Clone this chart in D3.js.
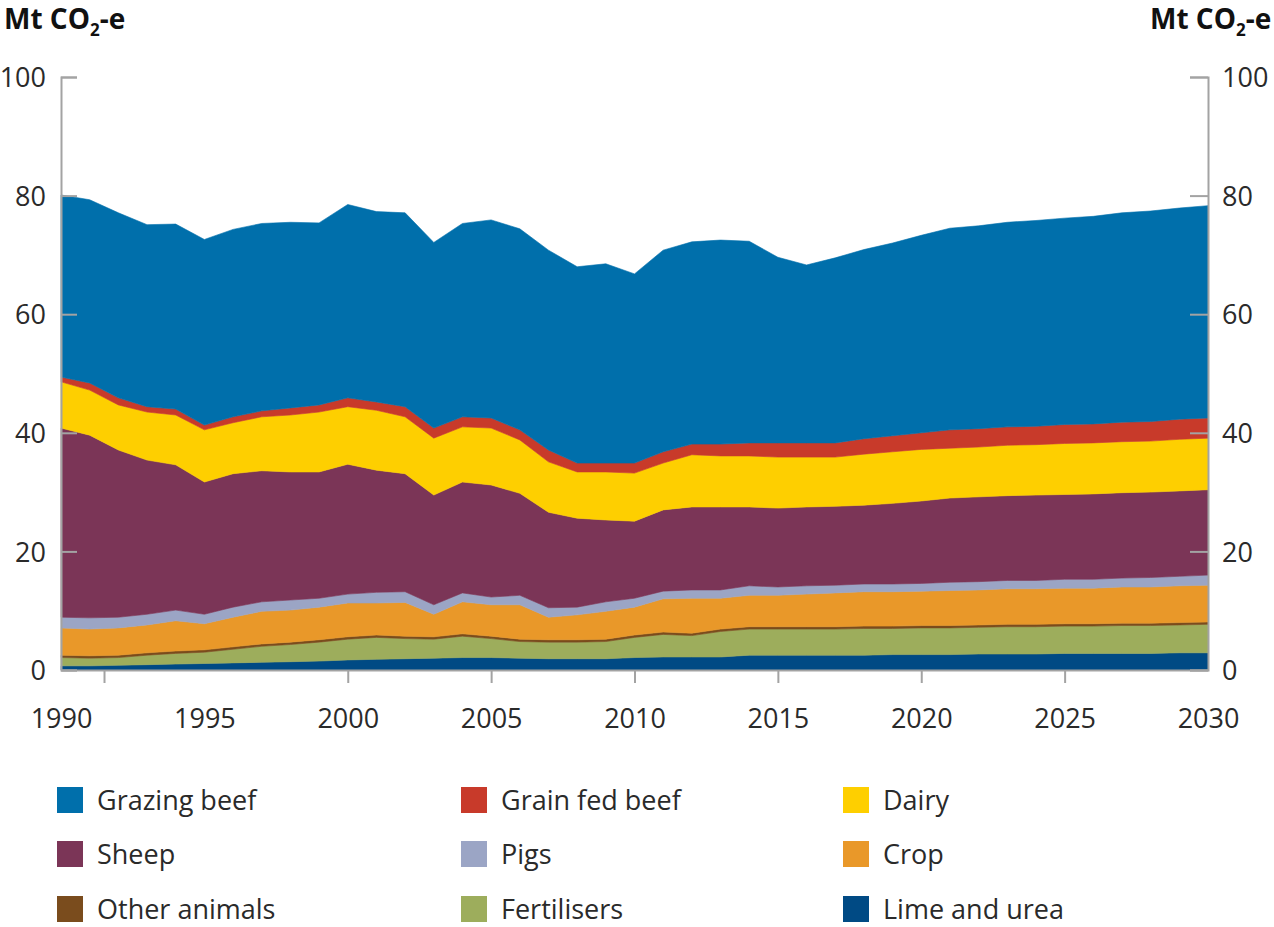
<!DOCTYPE html>
<html>
<head>
<meta charset="utf-8">
<script src="https://cdn.jsdelivr.net/npm/d3@7"></script>
<style>
  body { margin: 0; background: #fff; }
  svg { display: block; font-family: "Open Sans", sans-serif; }
  .axis text { font-size: 27px; fill: #2a2a2a; font-family: "Open Sans", sans-serif; }
  .axis path, .axis line { stroke: #a3a3a3; stroke-width: 2; }
  .legend text { font-size: 27px; fill: #2a2a2a; }
  .unit { font-size: 28px; font-weight: bold; fill: #111; }
</style>
</head>
<body>
<div id="chart"></div>
<script>
// emissions by source, Mt CO2-e
var years = [1990,1991,1992,1993,1994,1995,1996,1997,1998,1999,
             2000,2001,2002,2003,2004,2005,2006,2007,2008,2009,
             2010,2011,2012,2013,2014,2015,2016,2017,2018,2019,
             2020,2021,2022,2023,2024,2025,2026,2027,2028,2029,2030];

var limeUrea     = [0.7,0.7,0.8,0.9,1.0,1.1,1.2,1.3,1.4,1.5, 1.7,1.8,1.9,2.0,2.1,2.1,2.0,1.9,1.9,1.9,
                    2.1,2.2,2.2,2.2,2.5,2.5,2.5,2.5,2.5,2.6, 2.6,2.6,2.7,2.7,2.7,2.8,2.8,2.8,2.8,2.9,2.9];
var fertilisers  = [1.4,1.3,1.3,1.6,1.8,1.9,2.3,2.7,2.9,3.2, 3.5,3.7,3.4,3.2,3.6,3.2,2.8,2.8,2.8,2.9,
                    3.4,3.8,3.6,4.3,4.4,4.4,4.4,4.4,4.5,4.4, 4.5,4.5,4.5,4.6,4.6,4.6,4.6,4.7,4.7,4.7,4.8];
var otherAnimals = [0.4,0.4,0.4,0.4,0.4,0.4,0.4,0.4,0.4,0.4, 0.4,0.4,0.4,0.4,0.4,0.4,0.4,0.4,0.4,0.4,
                    0.4,0.4,0.4,0.4,0.4,0.4,0.4,0.4,0.4,0.4, 0.4,0.4,0.4,0.4,0.4,0.4,0.4,0.4,0.4,0.4,0.4];
var crop         = [4.6,4.5,4.6,4.7,5.1,4.4,5.0,5.5,5.4,5.5, 5.7,5.4,5.7,3.8,5.4,5.3,5.8,3.8,4.2,4.7,
                    4.7,5.6,5.9,5.2,5.3,5.3,5.5,5.7,5.8,5.8, 5.8,5.9,5.9,6.0,6.0,6.0,6.0,6.1,6.1,6.2,6.2];
var pigs         = [1.8,1.9,1.8,1.8,1.8,1.6,1.7,1.6,1.7,1.5, 1.5,1.8,1.8,1.6,1.5,1.3,1.6,1.6,1.3,1.6,
                    1.5,1.3,1.4,1.4,1.6,1.4,1.4,1.3,1.3,1.3, 1.3,1.4,1.4,1.4,1.4,1.5,1.5,1.5,1.6,1.6,1.7];
var sheep        = [31.9,30.8,28.2,26.0,24.5,22.3,22.5,22.1,21.6,21.3, 21.9,20.6,19.9,18.5,18.7,18.9,17.2,16.1,15.0,13.8,
                    13.0,13.7,14.0,14.0,13.3,13.3,13.3,13.3,13.3,13.6, 13.9,14.2,14.3,14.3,14.4,14.3,14.4,14.4,14.4,14.4,14.4];
var dairy        = [7.8,7.6,7.6,8.1,8.4,8.8,8.6,9.1,9.6,10.1, 9.7,10.1,9.6,9.6,9.3,9.6,9.0,8.5,7.8,8.1,
                    8.1,7.9,8.8,8.6,8.6,8.6,8.4,8.3,8.6,8.7, 8.7,8.4,8.4,8.5,8.5,8.6,8.6,8.6,8.6,8.7,8.7];
var grainFedBeef = [0.8,1.2,1.2,0.9,1.0,0.8,1.0,1.0,1.2,1.2, 1.5,1.4,1.7,1.7,1.7,1.7,1.7,2.0,1.5,1.5,
                    1.7,1.9,1.8,2.0,2.2,2.4,2.4,2.4,2.6,2.7, 2.8,3.1,3.1,3.1,3.1,3.2,3.2,3.3,3.3,3.4,3.4];
var grazingBeef  = [30.7,30.9,31.2,30.7,31.2,31.3,31.6,31.6,31.3,30.7, 32.6,32.1,32.7,31.3,32.6,33.4,33.9,33.7,33.1,33.6,
                    31.9,34.0,34.1,34.4,34.0,31.3,30.0,31.2,31.9,32.5, 33.3,34.0,34.2,34.5,34.7,34.8,35.0,35.3,35.5,35.6,35.8];

// stack order, bottom to top
var keys = ["Lime and urea","Fertilisers","Other animals","Crop","Pigs","Sheep","Dairy","Grain fed beef","Grazing beef"];
var series = [limeUrea, fertilisers, otherAnimals, crop, pigs, sheep, dairy, grainFedBeef, grazingBeef];
var colors = ["#004a84","#9dad5c","#7a4c1d","#e99829","#9ba5c5","#7b3557","#fecf00","#c83a2a","#006fab"];

var yTicks = [0, 20, 40, 60, 80, 100];
var xLabels = [1990, 1995, 2000, 2005, 2010, 2015, 2020, 2025, 2030];
var xTicks = [1991.5, 2000, 2005, 2010, 2015, 2020, 2025];

var margin = {top: 77, left: 61, right: 66, bottom: 257},
    width  = 1274 - margin.left - margin.right,
    height = 927 - margin.top - margin.bottom;

var data = years.map(function(yr, i) {
  var row = {year: yr};
  keys.forEach(function(k, j) { row[k] = series[j][i]; });
  return row;
});

var x = d3.scaleLinear().domain([1990, 2030]).range([0, width]),
    y = d3.scaleLinear().domain([0, 100]).range([height, 0]);

var color = d3.scaleOrdinal().domain(keys).range(colors);

var svg = d3.select("#chart")
    .append("svg")
    .attr("width", 1274)
    .attr("height", 927);

var g = svg.append("g").attr("transform", "translate(" + margin.left + "," + margin.top + ")");

var stack = d3.stack().keys(keys);

var area = d3.area()
    .x(function(d) { return x(d.data.year); })
    .y0(function(d) { return y(d[0]); })
    .y1(function(d) { return y(d[1]); });

g.selectAll(".layer")
  .data(stack(data))
  .enter().append("path")
    .attr("class", "layer")
    .attr("fill", function(d) { return color(d.key); })
    .attr("stroke", function(d) { return color(d.key); })
    .attr("stroke-width", 0.6)
    .attr("d", area);

// x axis: ticks and labels sit at different years in the original
g.append("g")
  .attr("class", "axis axis--x")
  .attr("transform", "translate(0," + height + ")")
  .call(d3.axisBottom(x).tickValues(xTicks).tickSize(13).tickSizeOuter(0).tickFormat(""));

g.append("g")
  .attr("class", "axis axis--xlab")
  .attr("transform", "translate(0," + height + ")")
  .call(d3.axisBottom(x).tickValues(xLabels).tickSize(0).tickPadding(39).tickFormat(d3.format("d")))
  .call(function(a) { a.select(".domain").remove(); });

g.append("g")
  .attr("class", "axis axis--y")
  .call(d3.axisLeft(y).tickValues(yTicks).tickSize(-16).tickSizeOuter(-16).tickPadding(15))
  .call(function(a) { a.selectAll("text").attr("dy", "0.36em"); });

g.append("g")
  .attr("class", "axis axis--y2")
  .attr("transform", "translate(" + width + ",0)")
  .call(d3.axisRight(y).tickValues(yTicks).tickSize(-18).tickSizeOuter(-18).tickPadding(14))
  .call(function(a) { a.selectAll("text").attr("dy", "0.36em"); });

// unit labels
function unit(xpos) {
  var t = svg.append("text").attr("class", "unit").attr("x", xpos).attr("y", 29);
  t.append("tspan").text("Mt CO");
  t.append("tspan").attr("font-size", "17px").attr("dy", 7).text("2");
  t.append("tspan").attr("dy", -7).text("-e");
}
unit(4);
unit(1150);

// legend, three columns in reverse stack order
var legendKeys = keys.slice().reverse();
var colX = [57, 461, 843],
    rowY = [800, 854, 909];

var legend = svg.append("g").attr("class", "legend")
  .selectAll("g")
  .data(legendKeys)
  .enter().append("g")
    .attr("transform", function(d, i) { return "translate(" + colX[i % 3] + "," + rowY[Math.floor(i / 3)] + ")"; });

legend.append("rect")
    .attr("x", 0)
    .attr("y", -13)
    .attr("width", 26)
    .attr("height", 26)
    .attr("fill", function(d) { return color(d); });

legend.append("text")
    .attr("x", 40)
    .attr("dy", "0.36em")
    .text(function(d) { return d; });
</script>
</body>
</html>
